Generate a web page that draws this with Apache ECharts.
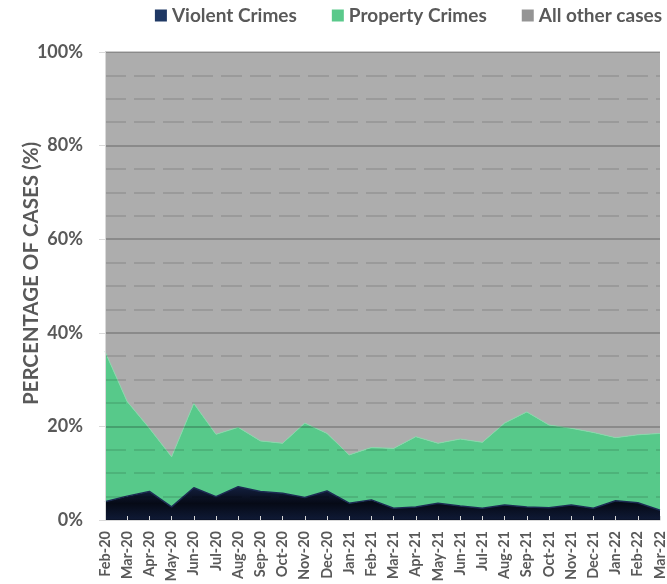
<!DOCTYPE html>
<html>
<head>
<meta charset="utf-8">
<script src="https://cdn.jsdelivr.net/npm/echarts@6/dist/echarts.min.js"></script>
<style>
html,body{margin:0;padding:0;background:#fff;}
#chart{width:667px;height:584px;}
</style>
</head>
<body>
<div id="chart"></div>
<script>
var months = ['Feb-20','Mar-20','Apr-20','May-20','Jun-20','Jul-20','Aug-20','Sep-20','Oct-20','Nov-20','Dec-20',
  'Jan-21','Feb-21','Mar-21','Apr-21','May-21','Jun-21','Jul-21','Aug-21','Sep-21','Oct-21','Nov-21','Dec-21',
  'Jan-22','Feb-22','Mar-22'];
var violent = [3.9,5.1,6.1,2.8,6.9,5.0,7.1,6.1,5.7,4.8,6.2,3.6,4.3,2.5,2.8,3.6,3.0,2.5,3.2,2.8,2.6,3.2,2.5,4.1,3.7,2.1];
var property = [32.1,20.2,13.5,10.7,18.0,13.3,12.7,10.8,10.7,15.9,12.3,10.3,11.2,12.8,15.0,12.8,14.3,14.1,17.5,20.3,17.7,16.4,16.2,13.5,14.5,16.4];
var other = [64.0,74.7,80.4,86.5,75.1,81.7,80.2,83.1,83.6,79.3,81.5,86.1,84.5,84.7,82.2,83.6,82.7,83.4,79.3,76.9,79.7,80.4,81.3,82.4,81.8,81.5];
var yTicks = [0,20,40,60,80,100];

var font = 'Lato, "Open Sans", sans-serif';
var txt = '#595959';
var chart = echarts.init(document.getElementById('chart'));
chart.setOption({
  animation: false,
  textStyle: {fontFamily: font},
  legend: {
    top: 1, right: 0, itemGap: 35, itemWidth: 12, itemHeight: 12, icon: 'rect',
    textStyle: {fontFamily: font, fontWeight: 'bold', fontSize: 19, color: txt}
  },
  grid: {left: 105, right: 7, top: 52, bottom: 64, containLabel: false, outerBoundsMode: 'none'},
  xAxis: {
    type: 'category', data: months, boundaryGap: false,
    axisLine: {lineStyle: {color: '#d9d9d9', width: 1}},
    axisTick: {inside: true, length: 4, lineStyle: {color: '#d9d9d9'}},
    axisLabel: {rotate: 90, interval: 0, margin: 11, fontFamily: font, fontWeight: 'bold', fontSize: 14.5, color: txt},
    z: 5
  },
  yAxis: {
    type: 'value', min: yTicks[0], max: yTicks[yTicks.length-1], interval: 20,
    name: 'PERCENTAGE OF CASES (%)', nameLocation: 'middle', nameGap: 63, nameMoveOverlap: false,
    nameTextStyle: {fontFamily: font, fontWeight: 'bold', fontSize: 20.5, color: txt, padding: [0, 0, 0, 25]},
    axisLine: {show: true, lineStyle: {color: '#d9d9d9'}},
    axisTick: {show: true, length: 6, lineStyle: {color: '#d9d9d9'}},
    axisLabel: {formatter: '{value}%', margin: 22, fontFamily: font, fontWeight: 'bold', fontSize: 18, color: txt},
    splitLine: {show: true, lineStyle: {color: 'rgba(0,0,0,0.2)', width: 2}},
    minorTick: {show: false, splitNumber: 4},
    minorSplitLine: {show: true, lineStyle: {color: 'rgba(0,0,0,0.11)', width: 2, type: [21, 8]}},
    z: 5
  },
  series: [
    {
      name: 'Violent Crimes', type: 'line', stack: 'all', data: violent, symbol: 'none',
      itemStyle: {color: '#1f3864'},
      lineStyle: {width: 1.5, color: '#1b2b52'},
      areaStyle: {color: new echarts.graphic.LinearGradient(0,0,0,1,[{offset:0,color:'#131f3e'},{offset:0.5,color:'#060a16'},{offset:1,color:'#0f1a36'}]), opacity: 1},
      z: 2
    },
    {
      name: 'Property Crimes', type: 'line', stack: 'all', data: property, symbol: 'none',
      itemStyle: {color: '#5ac98b'},
      lineStyle: {width: 1, color: '#8ad6ab'},
      areaStyle: {color: '#57c98a', opacity: 1},
      z: 2
    },
    {
      name: 'All other cases', type: 'line', stack: 'all', data: other, symbol: 'none',
      itemStyle: {color: '#949494'},
      lineStyle: {width: 0},
      areaStyle: {color: '#adadad', opacity: 1},
      z: 1
    }
  ]
});
</script>
</body>
</html>
